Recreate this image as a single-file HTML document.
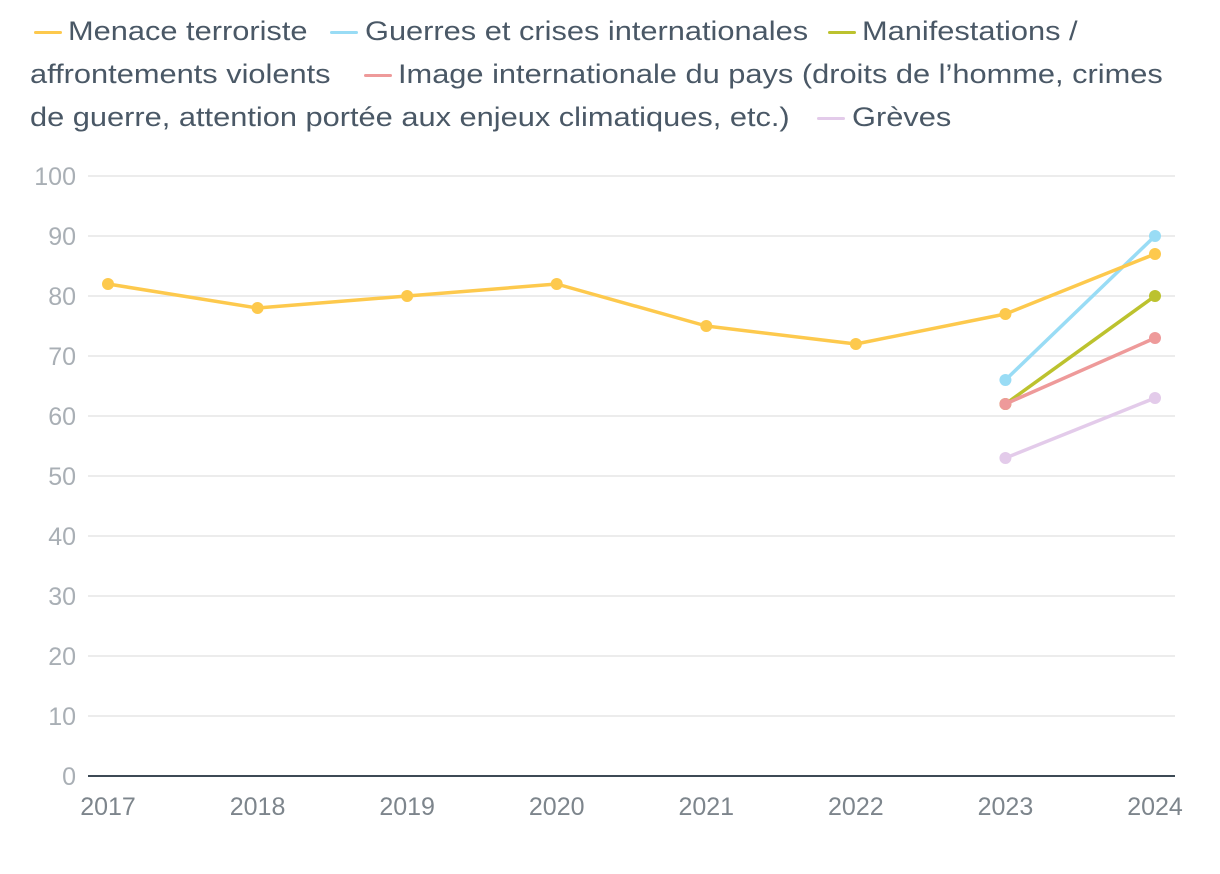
<!DOCTYPE html>
<html><head><meta charset="utf-8"><style>
body{margin:0;width:1220px;height:874px;background:#fff;overflow:hidden;font-family:"Liberation Sans",sans-serif}
.lg{position:absolute;font-size:27px;color:#4a5866;white-space:nowrap;line-height:30px;transform:scaleX(1.14);transform-origin:0 50%}
.sw{position:absolute;height:3px;width:28px;border-radius:2px}
</style></head><body>
<div>
<div class="sw" style="left:34px;top:31px;background:#fdc94d"></div>
<div class="lg" style="left:68px;top:16px">Menace terroriste</div>
<div class="sw" style="left:330px;top:31px;background:#99dcf5"></div>
<div class="lg" style="left:365px;top:16px">Guerres et crises internationales</div>
<div class="sw" style="left:828px;top:31px;background:#bcc22e"></div>
<div class="lg" style="left:862px;top:16px">Manifestations /</div>
<div class="lg" style="left:30px;top:59px">affrontements violents</div>
<div class="sw" style="left:364px;top:74px;background:#ee9a9a"></div>
<div class="lg" style="left:398px;top:59px">Image internationale du pays (droits de l’homme, crimes</div>
<div class="lg" style="left:30px;top:102px">de guerre, attention portée aux enjeux climatiques, etc.)</div>
<div class="sw" style="left:817px;top:117px;background:#e3cbea"></div>
<div class="lg" style="left:852px;top:102px">Grèves</div>
</div>
<svg id="chart" width="1220" height="874" style="position:absolute;left:0;top:0"></svg>
<script>
const years=[2017,2018,2019,2020,2021,2022,2023,2024];
const yTicks=[0,10,20,30,40,50,60,70,80,90,100];
const menace=[82,78,80,82,75,72,77,87];
const guerres=[null,null,null,null,null,null,66,90];
const manif=[null,null,null,null,null,null,62,80];
const image=[null,null,null,null,null,null,62,73];
const greves=[null,null,null,null,null,null,53,63];
const series=[
 {name:'greves',vals:greves,color:'#e3cbea'},
 {name:'manif',vals:manif,color:'#bcc22e'},
 {name:'image',vals:image,color:'#ee9a9a'},
 {name:'guerres',vals:guerres,color:'#99dcf5'},
 {name:'menace',vals:menace,color:'#fdc94d'}];
const svg=document.getElementById('chart');const NS='http://www.w3.org/2000/svg';
const x=i=>108+i*(1155-108)/(years.length-1);
const y=v=>776-v*6;
function mk(t,a){const e=document.createElementNS(NS,t);for(const k in a)e.setAttribute(k,a[k]);svg.appendChild(e);return e;}
yTicks.forEach(t=>{
 const g=mk('line',{x1:88,x2:1175,y1:y(t),y2:y(t),stroke:t===0?'#3d4a55':'#e6e6e6','stroke-width':t===0?2:1.5});
 
 
 const l=mk('text',{x:76,y:y(t)+9,'text-anchor':'end','font-size':25,fill:'#a9afb5','font-family':'Liberation Sans, sans-serif'});
 l.textContent=t;
 
 
});
years.forEach((yr,i)=>{
 const l=mk('text',{x:x(i),y:815,'text-anchor':'middle','font-size':25,fill:'#7d858c','font-family':'Liberation Sans, sans-serif'});
 l.textContent=yr;
 
 
});
series.forEach(s=>{
 const pts=[];s.vals.forEach((v,i)=>{if(v!==null)pts.push([x(i),y(v)]);});
 const p=mk('polyline',{points:pts.map(q=>q.join(',')).join(' '),fill:'none',stroke:s.color,'stroke-width':3.5,'stroke-linejoin':'round'});
 
 
 pts.forEach(q=>{
  const c=mk('circle',{cx:q[0],cy:q[1],r:6,fill:s.color});
  
  
 });
});
</script>
</body></html>
